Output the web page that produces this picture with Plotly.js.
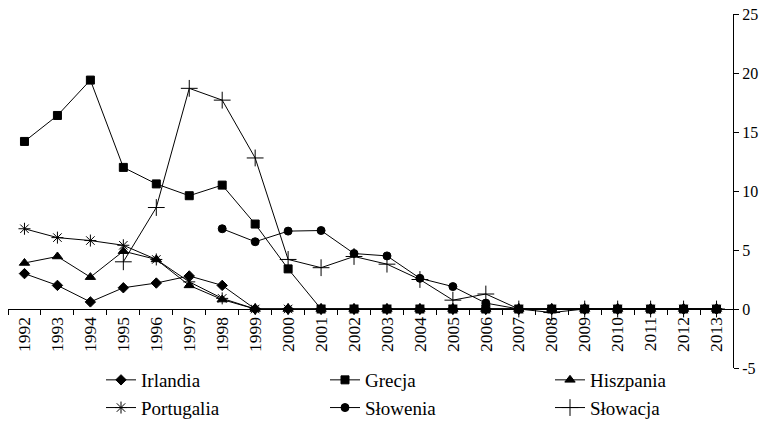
<!DOCTYPE html>
<html>
<head>
<meta charset="utf-8">
<script src="https://cdn.plot.ly/plotly-3.0.1.min.js"></script>
<style>html,body{margin:0;padding:0;background:#fff}#chart{width:765px;height:427px}</style>
</head>
<body>
<div id="chart"></div>
<script>
const years = ['1992','1993','1994','1995','1996','1997','1998','1999','2000','2001','2002','2003','2004','2005','2006','2007','2008','2009','2010','2011','2012','2013'];
const irlandia   = [3.0, 2.0, 0.6, 1.8, 2.2, 2.8, 2.0, 0, 0, 0, 0, 0, 0, 0, 0, 0, 0, 0, 0, 0, 0, 0];
const grecja     = [14.2, 16.4, 19.4, 12.0, 10.6, 9.6, 10.5, 7.2, 3.4, 0, 0, 0, 0, 0, 0, 0, 0, 0, 0, 0, 0, 0];
const hiszpania  = [3.9, 4.45, 2.7, 4.9, 4.2, 2.0, 0.8, 0, 0, 0, 0, 0, 0, 0, 0, 0, 0, 0, 0, 0, 0, 0];
const portugalia = [6.8, 6.05, 5.8, 5.4, 4.2, 2.3, 0.9, 0, 0, 0, 0, 0, 0, 0, 0, 0, 0, 0, 0, 0, 0, 0];
const slowenia   = [null, null, null, null, null, null, 6.8, 5.7, 6.6, 6.65, 4.7, 4.5, 2.6, 1.9, 0.5, 0, 0, 0, 0, 0, 0, 0];
const slowacja   = [null, null, null, 4.0, 8.6, 18.7, 17.7, 12.8, 4.2, 3.5, 4.45, 3.8, 2.5, 0.75, 1.27, 0, -0.3, 0, 0, 0, 0, 0];
const yTicks = [-5, 0, 5, 10, 15, 20, 25];

const FAM = 'Liberation Serif';
const line = {color: '#000', width: 1};
function tr(name, y, symbol, size, legend) {
  return {
    x: years, y: y, name: name, type: 'scatter', mode: 'lines+markers',
    line: line, connectgaps: false, legend: legend,
    marker: {symbol: symbol, size: size, color: '#000', line: {color: '#000', width: 1}}
  };
}
const data = [
  tr('Irlandia', irlandia, 'diamond', 8, 'legend'),
  tr('Grecja', grecja, 'square', 8, 'legend2'),
  tr('Hiszpania', hiszpania, 'triangle-up', 9, 'legend3'),
  tr('Portugalia', portugalia, 'asterisk-open', 10, 'legend'),
  tr('Słowenia', slowenia, 'circle', 8, 'legend2'),
  tr('Słowacja', slowacja, 'cross-thin-open', 12, 'legend3')
];
const H = 427, MT = 14, MB = 0;
const paperH = H - MT - MB;
const plotBottomPx = 368;
const dom0 = (H - MB - plotBottomPx) / paperH;
const zeroPos = dom0 + (1 - dom0) * (5 / 30);
const legendCommon = {
  orientation: 'v', xanchor: 'left', yanchor: 'bottom', y: 0,
  font: {family: FAM, size: 19, color: '#000'},
  bgcolor: 'rgba(0,0,0,0)', borderwidth: 0, traceorder: 'normal'
};
const layout = {
  width: 765, height: 427,
  margin: {l: 8, r: 32, t: MT, b: MB},
  paper_bgcolor: '#fff', plot_bgcolor: '#fff',
  font: {family: FAM, size: 16, color: '#000'},
  showlegend: true,
  xaxis: {
    type: 'category', range: [-0.5, 21.5],
    anchor: 'free', position: zeroPos,
    showline: true, linecolor: '#000', linewidth: 1,
    ticks: 'outside', ticklen: 5, tickcolor: '#000', tickwidth: 1,
    tickson: 'boundaries', tickangle: -90,
    showgrid: false, zeroline: false,
    tickfont: {family: FAM, size: 17.5, color: '#000'}
  },
  yaxis: {
    side: 'right', range: [-5, 25], domain: [dom0, 1],
    tickvals: yTicks, ticktext: yTicks.map(String),
    showline: true, linecolor: '#000', linewidth: 1,
    ticks: 'outside', ticklen: 5, tickcolor: '#000',
    showgrid: false, zeroline: false,
    tickfont: {family: FAM, size: 16, color: '#000'}
  },
  legend: Object.assign({}, legendCommon, {x: (101 - 8) / 725}),
  legend2: Object.assign({}, legendCommon, {x: (325 - 8) / 725}),
  legend3: Object.assign({}, legendCommon, {x: (550 - 8) / 725})
};
Plotly.newPlot('chart', data, layout, {displayModeBar: false, staticPlot: true});
</script>
</body>
</html>
